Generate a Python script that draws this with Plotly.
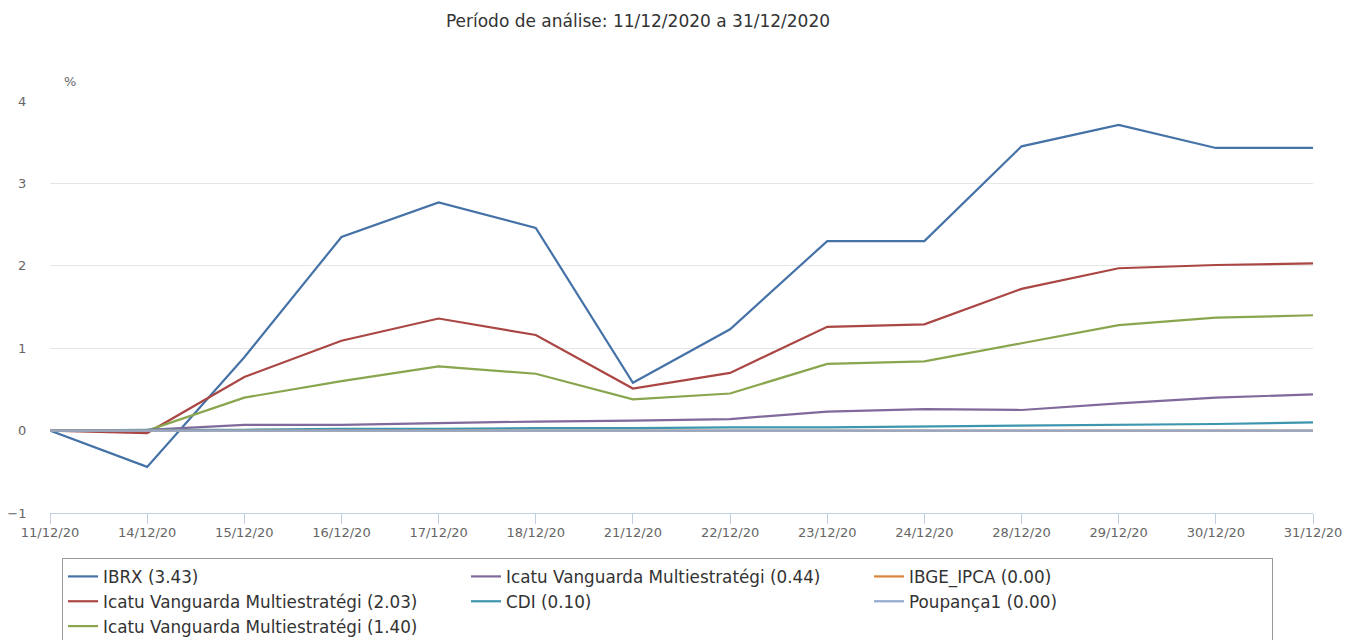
import plotly.graph_objects as go

dates = ["11/12/20", "14/12/20", "15/12/20", "16/12/20", "17/12/20", "18/12/20", "21/12/20",
         "22/12/20", "23/12/20", "24/12/20", "28/12/20", "29/12/20", "30/12/20", "31/12/20"]

ibrx = [0, -0.44, 0.89, 2.35, 2.77, 2.46, 0.58, 1.23, 2.30, 2.30, 3.45, 3.71, 3.43, 3.43]
icatu_a = [0, -0.03, 0.65, 1.09, 1.36, 1.16, 0.51, 0.70, 1.26, 1.29, 1.72, 1.97, 2.01, 2.03]
icatu_b = [0, 0.00, 0.40, 0.60, 0.78, 0.69, 0.38, 0.45, 0.81, 0.84, 1.06, 1.28, 1.37, 1.40]
icatu_c = [0, 0.01, 0.07, 0.07, 0.09, 0.11, 0.12, 0.14, 0.23, 0.26, 0.25, 0.33, 0.40, 0.44]
cdi = [0, 0.01, 0.01, 0.02, 0.02, 0.03, 0.03, 0.04, 0.04, 0.05, 0.06, 0.07, 0.08, 0.10]
ipca = [0, 0, 0, 0, 0, 0, 0, 0, 0, 0, 0, 0, 0, 0]
poupanca = [0, 0, 0, 0, 0, 0, 0, 0, 0, 0, 0, 0, 0, 0]

series = [
    ("IBRX (3.43)", ibrx, "#4572A7", 1),
    ("Icatu Vanguarda Multiestratégi (2.03)", icatu_a, "#AA4643", 4),
    ("Icatu Vanguarda Multiestratégi (1.40)", icatu_b, "#89A54E", 7),
    ("Icatu Vanguarda Multiestratégi (0.44)", icatu_c, "#80699B", 2),
    ("CDI (0.10)", cdi, "#3D96AE", 5),
    ("IBGE_IPCA (0.00)", ipca, "#DB843D", 3),
    ("Poupança1 (0.00)", poupanca, "#92A8CD", 6),
]

FONT = "DejaVu Sans"
W, H = 1369, 640
ML, MR, MT, MB = 42, 64, 93, 135
PW, PH = W - ML - MR, H - MT - MB

fig = go.Figure()
xs = list(range(len(dates)))
for name, vals, color, rank in series:
    fig.add_trace(go.Scatter(
        x=xs, y=vals, name=name, mode="lines",
        line=dict(color=color, width=2.2),
        legendrank=rank,
    ))

fig.update_layout(
    width=W, height=H,
    paper_bgcolor="white", plot_bgcolor="white",
    margin=dict(l=ML, r=MR, t=MT, b=MB, autoexpand=False),
    font=dict(family=FONT, size=13, color="#666666"),
    title=dict(text="Período de análise: 11/12/2020 a 31/12/2020",
               x=630 / W, xanchor="center", y=1 - 13 / H, yanchor="middle",
               font=dict(family=FONT, size=17, color="#333333")),
    showlegend=True,
    legend=dict(
        orientation="h", x=12 / PW, xanchor="left", y=-45 / PH, yanchor="top",
        entrywidth=358, entrywidthmode="pixels",
        bordercolor="#999999", borderwidth=1, bgcolor="white",
        font=dict(family=FONT, size=16.8, color="#333333"),
        itemwidth=30,
    ),
    annotations=[dict(text="%", xref="paper", yref="paper",
                      x=(70 - 8 - ML) / PW, y=1 + 19 / PH, xanchor="center", yanchor="middle",
                      showarrow=False, font=dict(family=FONT, size=13, color="#666666"))],
)

fig.update_xaxes(
    range=[0, len(dates) - 1], automargin=False,
    tickmode="array", tickvals=xs, ticktext=dates,
    showgrid=False, zeroline=False,
    showline=True, linecolor="#C0D0E0", linewidth=1,
    ticks="outside", ticklen=10, tickcolor="#C0D0E0",
    ticklabelstandoff=-3,
    tickfont=dict(family=FONT, size=13, color="#666666"),
)
fig.update_yaxes(
    range=[-1, 4], tickvals=[-1, 0, 1, 2, 3, 4], automargin=False,
    showgrid=True, gridcolor="#E6E6E6", gridwidth=1,
    zeroline=False, showline=False,
    ticks="outside", ticklen=20, tickcolor="rgba(0,0,0,0)",
    tickfont=dict(family=FONT, size=13, color="#666666"),
)

fig.write_html("out.html")
